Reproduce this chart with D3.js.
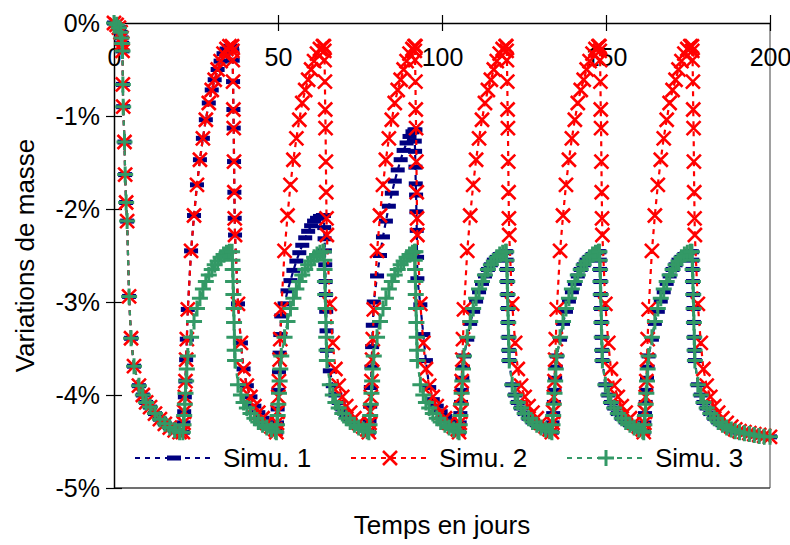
<!DOCTYPE html>
<html>
<head>
<meta charset="utf-8">
<script src="https://cdn.jsdelivr.net/npm/d3@7"></script>
<style>
  body { margin: 0; background: #fff; }
  svg { font-family: "Liberation Sans", Arial, sans-serif; }
</style>
</head>
<body>
<svg id="chart" width="790" height="545"></svg>
<script>
// ---- data (days / mass variation in %) ----
var xTicks = [0, 50, 100, 150, 200];
var yTicks = [0, -1, -2, -3, -4, -5];
var seriesNames = ["Simu. 1", "Simu. 2", "Simu. 3"];

// first drying, common to the three simulations
var dry0Days = [0, 0.8, 1.5, 2.0, 2.3, 2.5, 2.6, 2.7, 2.8, 3.2, 3.4, 3.7, 4.0, 4.6, 5.2, 6.1, 7.6, 8.8, 9.8, 11.0, 12.5, 14.0, 15.5, 17.0, 18.5, 20.0];
var dry0Vals = [0, -0.02, -0.05, -0.10, -0.16, -0.22, -0.30, -0.66, -0.90, -1.28, -1.63, -1.93, -2.13, -2.94, -3.39, -3.69, -3.90, -4.00, -4.08, -4.13, -4.20, -4.26, -4.31, -4.35, -4.38, -4.40];

// day offsets of the saved points inside a wetting / drying phase
var wetOffsets = [0, 0.2, 0.4, 0.6, 0.8, 1.0, 1.2, 1.5, 2.5, 3.4, 4.3, 5.2, 6.1, 7.0, 7.9, 8.8, 9.7, 10.6, 11.5, 12.4, 13.3, 14.2];
var dryOffsets = [0, 0.1, 0.2, 0.3, 0.4, 0.5, 0.6, 0.7, 0.8, 0.9, 1.8, 2.7, 3.5, 4.5, 5.6, 6.8, 8.0, 9.3, 10.6, 12.0, 13.2];
var lastDryOffsets = [0, 0.1, 0.2, 0.3, 0.4, 0.5, 0.6, 0.7, 0.8, 0.9, 1.8, 2.7, 3.5, 4.5, 5.6, 6.8, 8.0, 9.3, 10.6, 12.0, 13.2, 14.5, 16.0, 17.5, 19.0, 20.5, 22.0, 23.8];

// start day of each phase (dry0, wet, dry, wet, dry ...)
var phaseStarts = [0, 21.0, 36.0, 49.5, 64.0, 77.7, 91.6, 105.2, 119.6, 133.5, 148.0, 161.5, 176.2];

// Simu. 2 profiles
var redWet = [-4.40, -4.30, -4.18, -4.02, -3.85, -3.62, -3.40, -3.08, -2.45, -2.07, -1.74, -1.47, -1.24, -1.04, -0.86, -0.72, -0.61, -0.50, -0.41, -0.33, -0.28, -0.25];
var redDry = [-0.25, -0.30, -0.40, -0.63, -0.93, -1.13, -1.49, -1.82, -2.10, -2.28, -3.02, -3.44, -3.72, -3.90, -4.02, -4.12, -4.19, -4.25, -4.30, -4.34, -4.37];
var redLastDry = [-0.25, -0.30, -0.40, -0.63, -0.93, -1.13, -1.49, -1.82, -2.10, -2.28, -3.02, -3.44, -3.72, -3.90, -4.02, -4.12, -4.19, -4.25, -4.30, -4.34, -4.37, -4.39, -4.40, -4.41, -4.42, -4.43, -4.44, -4.45];

// Simu. 3 profiles
var greenWet = [-4.40, -4.32, -4.22, -4.10, -3.98, -3.85, -3.72, -3.58, -3.38, -3.21, -3.07, -2.96, -2.86, -2.78, -2.71, -2.65, -2.60, -2.56, -2.52, -2.49, -2.47, -2.46];
var greenDry = [-2.46, -2.55, -2.65, -2.78, -2.92, -3.07, -3.22, -3.38, -3.52, -3.63, -3.89, -4.00, -4.08, -4.14, -4.20, -4.25, -4.29, -4.32, -4.35, -4.37, -4.39];
var greenLastDry = [-2.46, -2.55, -2.65, -2.78, -2.92, -3.07, -3.22, -3.38, -3.52, -3.63, -3.89, -4.00, -4.08, -4.14, -4.20, -4.25, -4.29, -4.32, -4.35, -4.37, -4.39, -4.40, -4.41, -4.42, -4.43, -4.44, -4.45, -4.45];

// Simu. 1 profiles
var navyWet2 = [-4.40, -4.30, -4.15, -3.95, -3.75, -3.55, -3.35, -3.15, -3.02, -2.88, -2.77, -2.66, -2.56, -2.47, -2.39, -2.31, -2.24, -2.18, -2.13, -2.10, -2.08, -2.07];
var navyDry2 = [-2.07, -2.20, -2.32, -2.45, -2.60, -2.78, -2.92, -3.10, -3.31, -3.52, -3.74, -3.90, -4.00, -4.08, -4.15, -4.21, -4.26, -4.30, -4.33, -4.36, -4.38];
var navyWet3 = [-4.40, -4.28, -4.12, -3.92, -3.70, -3.48, -3.25, -3.00, -2.72, -2.50, -2.30, -2.13, -1.97, -1.83, -1.70, -1.58, -1.47, -1.37, -1.29, -1.22, -1.17, -1.15];
var navyDry3 = [-1.15, -1.27, -1.38, -1.55, -1.73, -1.85, -2.03, -2.23, -2.52, -2.75, -3.03, -3.35, -3.63, -3.92, -4.05, -4.12, -4.18, -4.23, -4.28, -4.32, -4.36];
var navyWetLate = [-4.40, -4.30, -4.20, -4.08, -3.95, -3.82, -3.70, -3.58, -3.40, -3.23, -3.10, -2.99, -2.89, -2.80, -2.72, -2.65, -2.60, -2.55, -2.52, -2.49, -2.47, -2.46];

var phaseOffsets = [dry0Days, wetOffsets, dryOffsets, wetOffsets, dryOffsets, wetOffsets, dryOffsets,
    wetOffsets, dryOffsets, wetOffsets, dryOffsets, wetOffsets, lastDryOffsets];

var simu1Phases = [dry0Vals, redWet, redDry, navyWet2, navyDry2, navyWet3, navyDry3,
    navyWetLate, greenDry, navyWetLate, greenDry, navyWetLate, greenLastDry];
var simu2Phases = [dry0Vals, redWet, redDry, redWet, redDry, redWet, redDry,
    redWet, redDry, redWet, redDry, redWet, redLastDry];
var simu3Phases = [dry0Vals, greenWet, greenDry, greenWet, greenDry, greenWet, greenDry,
    greenWet, greenDry, greenWet, greenDry, greenWet, greenLastDry];

function toPoints(phases) {
    return d3.merge(phases.map(function (vals, i) {
        return vals.map(function (v, j) {
            return { day: phaseStarts[i] + phaseOffsets[i][j], value: v };
        });
    }));
}

var series = [
    { name: seriesNames[0], color: "#000080", marker: "dash", points: toPoints(simu1Phases) },
    { name: seriesNames[1], color: "#ff0000", marker: "cross", points: toPoints(simu2Phases) },
    { name: seriesNames[2], color: "#339966", marker: "plus", points: toPoints(simu3Phases) }
];

// ---- layout ----
var plotLeft = 114, plotRight = 770, plotTop = 23, plotBottom = 488;

var xScale = d3.scaleLinear().domain([0, 200]).range([plotLeft, plotRight]);
var yScale = d3.scaleLinear().domain([-5, 0]).range([plotBottom, plotTop]);

var svg = d3.select("#chart");

// frame (right and bottom sides)
svg.append("line")
    .attr("x1", plotRight).attr("x2", plotRight).attr("y1", plotTop).attr("y2", plotBottom)
    .attr("stroke", "#808080").attr("stroke-width", 1.5);
svg.append("line")
    .attr("x1", plotLeft).attr("x2", plotRight).attr("y1", plotBottom).attr("y2", plotBottom)
    .attr("stroke", "#404040").attr("stroke-width", 1.5);

// y axis
var yAxis = svg.append("g")
    .attr("transform", "translate(" + plotLeft + ",0)")
    .call(d3.axisLeft(yScale).tickValues(yTicks)
        .tickFormat(function (d) { return d + "%"; })
        .tickSizeInner(8).tickSizeOuter(0).tickPadding(6));
yAxis.select(".domain").attr("stroke", "#000").attr("stroke-width", 1.5);
yAxis.selectAll(".tick line").attr("x1", 8).attr("x2", -8).attr("stroke", "#000").attr("stroke-width", 1.2);
yAxis.selectAll(".tick text").attr("font-size", 25).attr("fill", "#000")
    .attr("font-family", "Liberation Sans, Arial, sans-serif");

// x axis at top, labels under the line
var xAxis = svg.append("g")
    .attr("transform", "translate(0," + plotTop + ")")
    .call(d3.axisBottom(xScale).tickValues(xTicks)
        .tickSizeInner(8).tickSizeOuter(0).tickPadding(17));
xAxis.select(".domain").attr("stroke", "#000").attr("stroke-width", 1.5);
xAxis.selectAll(".tick line").attr("y1", -8).attr("y2", 8).attr("stroke", "#000").attr("stroke-width", 1.2);
xAxis.selectAll(".tick text").attr("font-size", 25).attr("fill", "#000")
    .attr("font-family", "Liberation Sans, Arial, sans-serif");

// axis titles
svg.append("text")
    .attr("x", 442).attr("y", 534)
    .attr("text-anchor", "middle").attr("font-size", 26)
    .text("Temps en jours");
svg.append("text")
    .attr("transform", "translate(34," + ((plotTop + plotBottom) / 2) + ") rotate(-90)")
    .attr("text-anchor", "middle").attr("font-size", 26)
    .text("Variations de masse");

// markers
function drawMarker(g, type, color) {
    if (type === "dash") {
        g.append("rect").attr("x", -7).attr("y", -2.5).attr("width", 14).attr("height", 5)
            .attr("fill", color);
    } else if (type === "cross") {
        g.append("path").attr("d", "M-7,-7L7,7M-7,7L7,-7")
            .attr("stroke", color).attr("stroke-width", 2.6).attr("fill", "none");
    } else {
        g.append("path").attr("d", "M-8,0L8,0M0,-8L0,8")
            .attr("stroke", color).attr("stroke-width", 3).attr("fill", "none");
    }
}

var line = d3.line()
    .x(function (d) { return xScale(d.day); })
    .y(function (d) { return yScale(d.value); });

series.forEach(function (s) {
    var g = svg.append("g");
    g.append("path")
        .datum(s.points)
        .attr("fill", "none")
        .attr("stroke", s.color)
        .attr("stroke-width", 2.2)
        .attr("stroke-dasharray", "5 5")
        .attr("d", line);
    g.selectAll("g.mk")
        .data(s.points)
        .enter()
        .append("g")
        .attr("class", "mk")
        .attr("transform", function (d) {
            return "translate(" + xScale(d.day) + "," + yScale(d.value) + ")";
        })
        .each(function () { drawMarker(d3.select(this), s.marker, s.color); });
});

// legend
var legendX = [135, 351, 567];
var legendY = 458;
series.forEach(function (s, i) {
    var lg = svg.append("g").attr("transform", "translate(" + legendX[i] + "," + legendY + ")");
    lg.append("rect").attr("x", -4).attr("y", -14).attr("width", 200).attr("height", 28).attr("fill", "#fff");
    lg.append("line").attr("x1", 0).attr("x2", 78).attr("y1", 0).attr("y2", 0)
        .attr("stroke", s.color).attr("stroke-width", 2.2).attr("stroke-dasharray", "5 5");
    drawMarker(lg.append("g").attr("transform", "translate(39,0)"), s.marker, s.color);
    lg.append("text").attr("x", 88).attr("y", 0).attr("dy", "0.35em")
        .attr("font-size", 26).attr("fill", "#000").text(s.name);
});
</script>
</body>
</html>
